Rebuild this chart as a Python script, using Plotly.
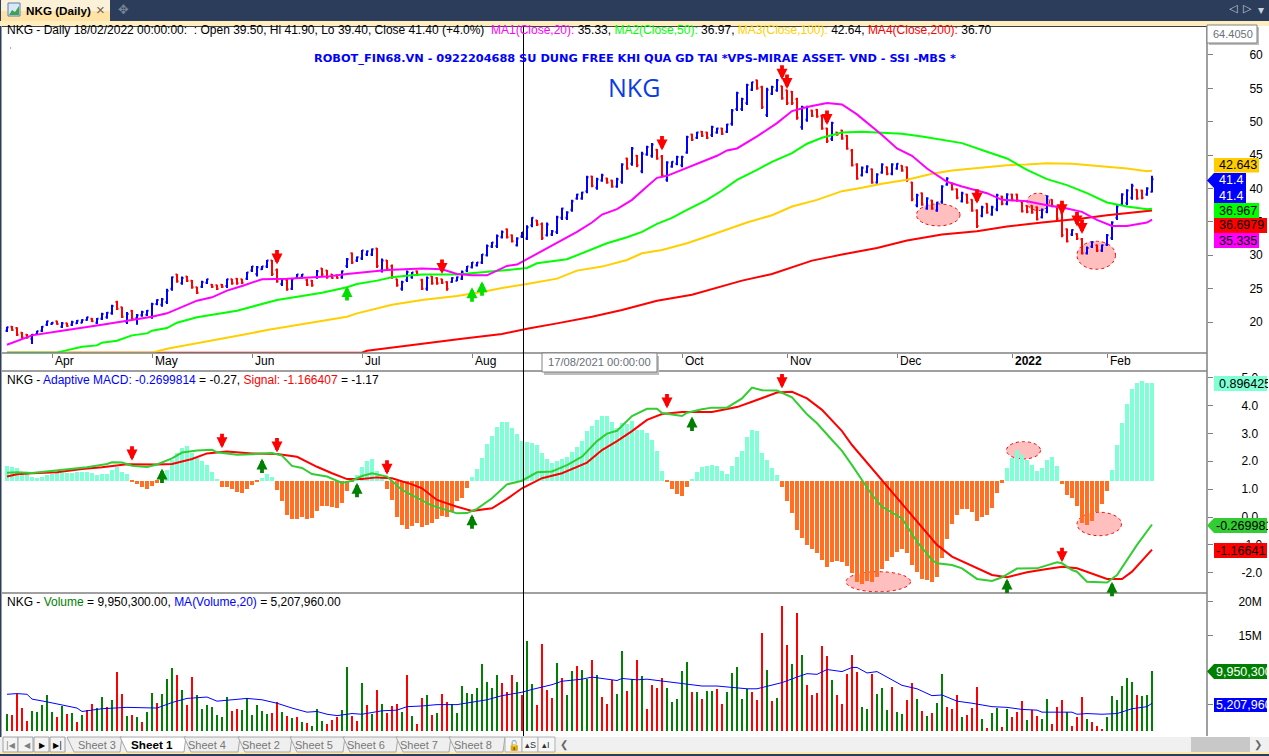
import plotly.graph_objects as go

W, H = 1269, 756
FONT = "Liberation Sans"

# ---- price pane (bar number on the x axis, one bar = 5 px)
bar_high = [
    19.3,19.4,19.2,18.5,18.2,18.2,18.7,19.4,20.2,20.0, 20.2,20.0,19.9,20.2,20.3,20.4,20.8,20.6,20.6,21.4,
    21.5,22.6,23.2,22.3,21.5,21.8,21.2,21.7,21.8,22.9, 23.4,23.6,25.0,26.8,27.2,26.8,26.9,26.3,25.3,26.2,
    26.5,25.7,25.6,25.7,26.5,26.5,26.6,26.5,27.5,28.4, 28.4,28.4,29.3,29.3,28.0,26.6,26.5,26.6,27.2,27.2,
    26.5,26.3,27.8,28.1,27.8,27.2,27.1,27.7,29.6,30.4, 29.8,30.8,30.7,31.0,31.1,29.5,29.3,28.6,26.5,26.2,
    27.7,27.5,27.7,26.5,26.8,26.9,26.7,26.5,26.1,26.7, 26.8,27.7,28.4,29.0,29.0,30.2,31.6,32.0,33.1,33.7,
    34.0,33.1,32.7,33.5,34.5,35.7,35.3,34.9,34.9,33.8, 35.9,37.1,36.6,38.3,39.2,39.5,41.9,41.9,41.6,42.2,
    41.6,41.3,41.6,43.8,44.6,46.2,45.0,45.5,46.4,46.8, 45.9,45.0,44.1,44.1,44.9,44.9,47.9,48.2,48.5,48.6,
    48.5,49.4,49.1,49.1,49.7,51.9,54.5,53.6,55.7,56.0, 56.3,55.4,55.1,55.4,56.4,55.4,54.8,54.6,53.6,52.4,
    52.4,51.8,51.9,51.0,49.1,50.0,48.5,48.8,48.0,45.9, 43.8,43.3,43.5,43.0,42.3,43.8,43.3,43.8,43.8,43.5,
    43.3,41.0,39.2,39.4,38.7,38.3,38.0,40.5,41.7,40.9, 40.0,39.5,39.2,38.4,36.9,37.4,37.8,37.4,39.2,38.9,
    39.3,39.2,39.2,38.1,37.5,37.5,37.3,37.0,39.0,38.4, 37.4,36.5,34.0,33.9,33.3,32.6,31.3,32.1,31.6,31.6,
    33.2,35.1,37.5,39.3,39.9,40.7,39.9,39.8,40.2,41.9,
]
bar_low = [
    18.5,18.7,17.9,17.5,17.5,16.7,18.1,18.5,19.4,19.6, 19.6,19.1,19.3,19.4,19.7,19.8,20.2,20.0,19.7,20.3,
    20.5,21.1,21.8,20.6,19.7,20.3,19.6,20.8,20.9,20.5, 22.5,22.3,22.7,24.7,25.9,25.6,26.0,25.0,24.2,25.1,
    25.7,25.1,24.8,25.1,25.1,25.6,25.6,25.7,26.3,27.5, 26.8,27.8,28.1,26.9,25.9,25.4,24.7,24.8,26.5,26.6,
    25.4,25.3,26.5,26.9,26.5,26.5,26.5,26.5,28.1,28.7, 29.0,29.3,29.9,29.9,28.1,27.4,27.8,26.5,25.3,24.7,
    26.0,26.5,26.9,24.8,24.7,25.6,25.6,25.7,24.7,25.9, 26.1,26.3,27.5,28.0,28.3,28.7,29.8,31.1,31.1,32.5,
    32.5,31.9,31.3,32.6,32.3,34.2,34.4,32.3,32.8,32.9, 33.2,35.3,35.3,36.5,38.3,38.3,39.3,40.2,39.8,41.0,
    40.7,40.1,40.1,40.7,42.8,43.4,43.2,42.3,44.9,44.6, 44.3,41.7,41.0,43.1,43.5,43.2,45.2,47.1,47.4,47.7,
    47.4,47.7,48.2,48.0,48.3,49.4,51.6,51.6,52.5,54.6, 54.8,51.9,50.7,54.0,54.5,53.3,52.5,52.5,50.3,48.8,
    50.0,50.7,50.6,48.8,46.8,47.1,47.9,47.3,45.8,43.3, 41.3,41.8,42.3,40.7,40.7,42.2,42.0,42.0,42.8,42.5,
    41.0,38.1,37.2,37.4,36.8,36.8,36.5,37.7,40.4,39.7, 38.4,37.9,37.7,36.5,34.1,35.7,36.2,35.9,36.6,37.5,
    37.5,38.1,38.0,36.4,36.3,36.2,35.2,35.5,36.3,37.2, 35.3,32.7,31.9,32.9,32.3,30.1,30.1,31.1,30.5,30.5,
    31.4,32.3,35.3,37.4,37.5,38.3,38.3,38.4,38.9,39.4,
]
bar_open = [
    18.7,19.3,19.1,18.4,18.1,17.5,18.2,18.7,19.6,19.7, 20.1,19.3,19.8,19.6,19.8,19.9,20.3,20.5,19.9,20.5,
    20.7,21.3,23.0,22.2,20.0,21.7,20.6,21.0,21.1,20.8, 22.7,22.6,23.0,25.0,27.1,25.8,26.8,26.2,25.2,25.3,
    25.9,25.6,25.5,25.6,25.4,26.4,26.5,26.4,26.5,27.7, 27.2,27.9,28.3,29.2,27.8,25.7,26.3,25.0,26.6,26.7,
    26.3,26.2,26.7,28.0,27.7,27.1,27.0,26.7,28.4,30.3, 29.2,29.5,30.1,30.1,31.0,27.7,29.2,28.4,26.4,25.0,
    26.3,26.7,27.6,26.3,25.0,26.8,26.6,26.4,26.0,26.0, 26.2,26.5,27.7,28.2,28.5,28.9,30.0,31.3,31.4,32.7,
    33.9,33.0,31.5,32.8,32.5,34.5,35.2,34.7,33.0,33.1, 33.5,35.6,35.6,36.8,38.5,38.5,39.6,41.8,40.1,41.2,
    41.5,41.2,40.3,41.0,44.5,43.7,44.9,42.6,45.1,44.9, 45.8,44.8,41.3,43.3,43.7,43.5,45.4,48.1,47.6,48.5,
    48.4,48.0,48.4,49.0,48.5,49.7,51.9,51.9,52.8,54.8, 56.2,55.2,51.0,54.2,54.7,55.3,54.7,54.5,53.4,49.2,
    50.3,51.7,51.8,50.9,49.0,47.4,48.4,48.7,47.9,45.7, 43.6,42.0,42.5,42.9,40.9,42.4,43.2,42.2,43.0,43.4,
    43.2,40.9,37.5,39.3,37.0,38.2,36.7,38.0,40.6,40.8, 39.9,38.1,39.1,38.3,36.7,35.9,37.7,36.1,36.9,38.8,
    37.7,39.1,39.1,38.0,37.4,37.4,37.2,35.7,36.5,38.3, 37.3,36.3,33.9,33.1,33.2,32.4,30.3,31.3,31.5,30.7,
    31.6,32.6,35.6,37.6,37.8,38.6,39.8,39.7,39.1,39.5,
]
bar_close = [
    19.2,18.8,18.1,17.7,17.7,18.1,18.6,19.3,20.1,19.9, 19.7,19.8,19.4,20.0,20.2,20.3,20.7,20.1,20.5,21.2,
    21.4,22.4,22.0,20.8,21.2,20.5,21.0,21.5,21.7,22.7, 23.3,23.4,24.7,26.7,26.1,26.6,26.2,25.2,24.4,26.0,
    26.4,25.3,25.0,25.3,26.4,25.8,25.8,25.9,27.4,28.3, 28.2,28.3,29.2,27.2,26.1,26.4,24.9,26.4,27.1,27.1,
    25.6,25.5,27.6,27.1,26.7,26.6,26.6,27.6,29.4,28.9, 29.7,30.7,30.6,30.9,28.4,29.2,28.0,26.7,25.5,26.0,
    27.5,27.4,27.1,25.0,26.6,25.8,25.8,25.9,25.0,26.6, 26.7,27.5,28.3,28.9,28.9,30.1,31.4,31.9,32.9,33.5,
    32.7,32.1,32.5,33.4,34.2,35.6,34.6,32.6,34.6,33.6, 35.7,37.0,36.4,38.1,39.1,39.4,41.7,40.4,41.4,42.0,
    40.9,40.3,41.4,43.6,43.0,46.0,43.5,45.2,46.2,46.6, 44.5,42.0,43.9,44.0,44.7,44.7,47.7,47.3,48.4,47.9,
    47.6,49.2,49.0,48.2,49.6,51.7,54.3,53.4,55.5,55.9, 55.0,52.2,54.8,55.2,56.2,53.5,52.8,52.8,50.6,52.2,
    52.2,50.9,50.8,49.0,47.1,49.8,48.1,47.5,46.0,43.5, 41.5,43.1,43.3,40.9,42.1,43.6,42.2,43.6,43.7,42.7,
    41.3,38.4,39.0,37.6,38.5,37.0,37.9,40.3,41.5,39.9, 38.6,39.3,37.9,36.7,34.4,37.2,36.4,37.2,39.0,37.7,
    39.1,38.3,38.2,36.6,36.5,36.4,35.4,36.8,38.8,37.4, 35.5,33.0,32.1,33.8,32.5,30.3,31.1,32.0,30.7,31.5,
    33.0,34.9,37.3,39.1,39.7,40.4,38.5,38.6,40.0,41.4,
]

ma20_x = [0,2,5,11,17,19,24,29,32,35,38,41,44,47,49,51,56,60,64,68,72,76,83,87,90,93,96,99,100,102,104,107,110,114,117,119,122,125,128,130,132,135,138,142,144,146,150,154,157,160,164,167,170,173,175,178,181,184,186,188,191,196,199,204,208,212,215,218,221,224,228,229]
ma20 = [16.6,17.2,18.0,18.7,19.3,19.6,20.2,20.8,21.3,22.3,23.2,23.7,24.7,25.4,25.9,26.4,26.5,26.6,26.8,27.2,27.5,27.8,28.0,27.9,27.2,27.0,27.0,28.0,28.4,28.6,29.4,30.7,31.8,33.5,34.9,36.1,36.9,38.3,40.3,41.6,41.9,42.8,43.7,44.9,45.7,46.0,47.8,49.8,51.6,52.2,52.8,52.6,51.1,49.3,48.0,46.0,44.9,43.0,42.0,41.0,40.3,39.3,38.3,38.1,37.5,37.0,36.5,35.3,34.4,34.4,34.9,35.33]
ma50_x = [0,10,11,15,18,19,22,25,28,29,32,34,38,42,46,49,51,54,59,63,68,70,74,77,81,83,90,95,99,104,106,112,116,120,124,127,130,133,136,140,143,146,150,153,157,160,163,167,171,175,179,183,187,191,196,200,204,208,212,216,220,224,228,229]
ma50 = [15.4,15.4,15.6,16.3,16.5,16.9,17.2,18.0,18.3,18.7,19.1,19.9,20.7,21.2,21.7,22.3,22.7,23.3,23.9,24.4,25.2,25.7,26.2,26.7,27.0,27.1,27.1,27.4,27.7,28.1,28.8,29.4,30.6,31.8,32.7,33.5,34.7,35.6,36.8,38.3,39.7,41.3,42.8,44.0,45.3,46.7,47.6,48.4,48.5,48.4,48.2,47.8,47.3,46.8,45.5,44.5,42.8,41.4,40.5,39.3,37.9,37.3,36.9,36.97]
ma100_x = [0,29,32,35,39,44,48,52,56,60,64,68,70,74,77,83,90,95,99,104,110,114,119,124,127,131,136,140,144,148,153,157,162,167,171,175,180,185,189,195,200,204,208,213,218,224,228,229]
ma100 = [15.4,15.4,16.0,16.4,17.0,17.6,18.2,18.8,19.3,19.8,20.3,20.8,21.3,22.1,22.6,23.3,23.9,24.5,25.1,25.7,26.5,27.7,28.3,29.3,30.3,30.8,31.8,32.8,33.8,34.9,36.0,37.3,38.3,39.6,40.1,40.7,41.3,42.2,42.7,43.1,43.5,43.6,43.8,43.7,43.4,43.0,42.6,42.64]
ma200_x = [0,71,72,77,83,87,91,99,104,110,117,123,126,130,137,142,147,153,157,161,167,174,180,187,194,200,207,215,220,226,229]
ma200 = [15.4,15.4,15.7,16.2,16.8,17.1,17.5,18.2,19.0,19.8,20.8,21.8,22.4,23.2,24.1,25.1,26.2,27.2,28.2,29.2,30.1,31.1,32.2,33.1,33.6,34.3,34.9,35.5,36.0,36.4,36.70]

sell_x = [54,87,131,155,156,164,194,211,214,215]
sell_tip = [28.6,27.2,45.7,56.3,54.9,49.5,37.7,36.0,34.3,33.2]
buy_x = [68,93,95]
buy_tip = [25.4,25.2,26.1]

# ---- MACD pane
macd_x = [0,2,5,10,16,20,21,23,25,28,30,33,35,38,41,42,46,49,53,55,57,59,61,64,67,69,71,73,76,79,83,85,87,90,92,94,97,100,103,106,109,112,115,118,120,122,125,128,130,131,135,136,139,141,144,147,149,151,154,157,160,162,165,167,169,171,173,175,179,182,185,186,189,191,194,197,199,202,206,210,211,213,214,216,220,222,226,229]
macd = [1.59,1.60,1.58,1.68,1.78,1.90,1.96,1.95,1.84,1.79,1.88,2.10,2.31,2.38,2.41,2.32,2.23,2.25,2.29,2.20,1.83,1.76,1.54,1.45,1.22,1.30,1.47,1.57,1.45,0.97,0.61,0.41,0.30,0.13,0.14,0.29,0.67,1.17,1.30,1.60,1.63,1.86,2.16,2.72,2.99,3.09,3.62,3.88,3.88,3.73,3.62,3.74,3.86,3.92,3.92,4.25,4.64,4.54,4.53,4.29,3.68,3.36,2.76,2.37,1.86,1.33,0.79,0.37,-0.05,-0.88,-1.54,-1.66,-1.72,-1.84,-2.22,-2.29,-2.16,-1.85,-1.84,-1.62,-1.66,-1.90,-1.96,-2.32,-2.35,-2.08,-1.00,-0.27]
signal_x = [0,2,5,10,15,19,24,27,30,33,37,40,44,49,54,58,62,65,68,71,74,77,81,83,86,90,93,97,100,103,107,111,116,119,122,125,128,131,135,141,146,149,154,157,160,163,167,169,175,181,186,189,193,197,200,204,208,211,214,217,220,223,225,229]
signal = [1.45,1.53,1.57,1.60,1.72,1.78,1.89,1.88,1.88,1.90,2.08,2.28,2.35,2.28,2.26,2.16,1.80,1.57,1.36,1.36,1.42,1.39,1.17,1.03,0.61,0.37,0.22,0.31,0.65,1.03,1.39,1.57,1.95,2.40,2.72,3.08,3.48,3.69,3.76,3.76,3.94,4.13,4.46,4.49,4.25,3.84,3.08,2.58,1.33,0.07,-1.00,-1.42,-1.76,-2.08,-2.16,-1.98,-1.86,-1.78,-1.84,-2.03,-2.22,-2.22,-1.96,-1.17]
histogram = [
    .137,.128,.119,.073,.064,.037,.027,.037,.055,.064, .073,.073,.073,.073,.082,.082,.082,.073,.055,.064,
    .064,.10,.128,.082,.064,-.005,-.03,-.055,-.07,-.05, -.015,.02,.10,.19,.26,.30,.32,.26,.21,.18,
    .146,.08,.018,-.055,-.055,-.073,-.10,-.113,-.073,-.037, -.006,.03,.064,.037,-.082,-.183,-.31,-.348,-.348,-.33,
    -.348,-.34,-.274,-.229,-.229,-.238,-.247,-.20,-.09,-.012, .055,.128,.18,.20,.09,.037,-.073,-.174,-.33,-.40,
    -.44,-.41,-.384,-.418,-.40,-.384,-.348,-.32,-.33,-.284, -.183,-.155,-.064,.037,.11,.21,.338,.41,.494,.54,
    .54,.485,.43,.366,.357,.348,.33,.256,.20,.165, .183,.20,.22,.265,.31,.366,.457,.503,.558,.594,
    .594,.54,.485,.53,.52,.55,.466,.466,.44,.375, .274,.09,-.009,-.073,-.119,-.137,-.055,.018,.082,.128,
    .137,.146,.137,.09,.064,.137,.22,.274,.40,.466, .457,.256,.19,.119,.055,-.055,-.183,-.293,-.448,-.52,
    -.585,-.622,-.658,-.72,-.787,-.74,-.73,-.74,-.777,-.84, -.924,-.942,-.915,-.924,-.878,-.805,-.73,-.695,-.65,-.622,
    -.658,-.768,-.832,-.896,-.905,-.924,-.878,-.704,-.53,-.393, -.31,-.256,-.256,-.284,-.366,-.33,-.31,-.247,-.11,-.018,
    .119,.21,.284,.238,.192,.146,.09,.119,.192,.22, .137,-.024,-.128,-.155,-.229,-.384,-.40,-.366,-.284,-.21,
    -.09,.10,.33,.53,.704,.84,.896,.915,.896,.896,
]
macd_sell_x = [25,43,54,76,132,155,211]
macd_sell_tip = [2.02,2.46,2.31,1.51,3.89,4.61,-1.62]
macd_buy_x = [31,51,70,93,137,200,221]
macd_buy_tip = [1.74,2.10,1.23,0.10,3.60,-2.20,-2.32]

# ---- volume pane, millions of shares
volume = [
    3.6,3.5,6.6,4.5,2.6,4.1,3.9,4.9,6.4,3.9, 3.2,4.8,3.6,3.8,2.5,3.5,4.2,5.1,4.5,6.1,
    4.6,5.7,9.7,6.5,3.3,3.5,3.2,2.5,3.9,6.7, 5.2,6.5,8.7,10.3,9.3,7.1,4.9,9.0,6.4,4.4,
    4.9,4.6,3.5,3.2,6.1,4.1,4.4,4.2,6.0,3.5, 4.9,4.1,3.6,3.8,5.4,3.9,3.3,3.0,3.2,2.5,
    2.3,1.9,4.4,2.6,2.2,2.8,3.2,4.2,10.5,3.3, 2.6,8.1,4.9,3.6,7.1,5.1,3.8,4.8,5.1,3.9,
    9.3,3.3,2.2,6.0,6.4,3.5,3.8,6.5,5.4,5.1, 3.8,7.7,6.7,6.5,7.4,10.9,8.3,7.4,9.3,8.1,
    6.8,9.3,8.3,6.4,14.2,8.0,4.9,13.8,7.1,6.0, 11.0,8.9,6.4,9.9,10.6,10.0,8.7,11.5,9.3,6.1,
    5.1,8.6,6.5,12.8,7.0,8.7,11.5,9.2,4.4,7.8, 7.4,8.9,7.4,5.4,5.8,9.9,11.2,6.8,6.8,5.8,
    7.0,7.0,7.3,5.1,6.8,9.6,10.5,5.8,7.3,6.8, 5.7,15.4,10.0,5.5,6.0,19.3,13.7,10.9,18.3,12.2,
    7.9,6.4,6.7,13.5,12.1,8.6,6.4,5.1,9.4,12.2, 9.7,4.6,4.4,9.4,6.5,7.4,4.2,7.6,3.9,3.6,
    5.7,8.1,5.8,4.1,3.3,3.8,5.2,9.4,4.6,4.4, 6.4,3.2,3.5,4.5,7.6,2.9,1.6,3.8,4.5,1.7,
    4.4,3.2,3.9,5.5,2.8,4.2,3.3,2.9,5.8,2.2, 4.6,5.7,3.9,1.9,3.2,6.1,2.9,2.5,1.9,1.5,
    3.2,6.3,5.7,7.7,8.9,8.3,6.4,6.3,6.4,9.95,
]
volume_side = (
    "GRRRRGGGGG" "RGRGRGRRGG" "RGRRGRGRGG" "RGGGRGRRGG" "GGGGGRRGGG" "GGGRRGRGRG"
    "RGGGRRRGGR" "RGRGRGRRRG" "RGRRGRGRRG" "GGGGGGGGGR" "RRGRGGRRRR" "GRGGRGGRGR"
    "RRGGRGRGRR" "RRGGGGGRGR" "GGRRGGGGGR" "RRGRGRRGRG" "RRRRRGRRRR" "RGGRGGGRGG"
    "RRGRGRGGRR" "RGRRRGRGGR" "GRRRGRRGGR" "RRGRRRGRRR" "GGGGGGRGGG"
)
vol_ma_x = [0,2,4,5,8,11,14,15,19,24,27,30,33,36,40,42,45,48,51,54,57,60,62,64,66,69,71,75,78,80,83,86,90,93,96,99,103,105,109,111,115,117,120,122,123,126,128,131,134,137,139,142,145,148,150,153,155,158,160,162,164,167,169,170,172,174,177,179,182,185,187,190,193,197,200,203,206,207,210,213,214,216,219,222,225,228,229]
vol_ma = [6.5,6.6,6.5,5.8,5.4,4.9,4.5,4.0,4.4,4.6,4.6,4.5,5.3,5.9,6.1,5.5,5.7,5.9,5.7,5.2,4.5,3.9,4.0,3.6,3.4,3.7,3.6,4.1,4.2,4.7,4.8,5.0,5.0,5.3,5.7,6.3,6.8,7.2,7.9,8.4,8.7,9.0,8.7,8.5,8.8,8.6,8.7,8.4,8.1,7.9,7.7,7.7,7.5,7.3,7.3,7.8,8.2,9.0,9.5,9.4,10.1,9.8,10.4,10.4,9.6,9.8,8.6,7.8,7.3,6.3,6.4,5.5,5.2,4.7,4.6,4.3,4.2,3.9,3.9,3.9,3.6,3.7,3.6,3.7,4.4,4.7,5.2]

month_x = [9,29,49,71,93,135,156,178,201,220]
month_text = ["Apr","May","Jun","Jul","Aug","Oct","Nov","Dec","2022","Feb"]
sep_tick = 114
cursor_x = 103.3

# pink marks: bar from, bar to, value low, value high
price_ovals = [(181.9,190.6,34.4,37.7),(204,208.5,36.7,39.3),(214,221.7,27.9,32.1)]
macd_ovals = [(167.8,180.7,-2.68,-1.96),(199.9,206.7,2.08,2.70),(214,222.9,-0.67,0.17)]


def domain(top, bottom):
    return [1 - bottom / H, 1 - top / H]


def px(x):
    return x / W


def py(y):
    return 1 - y / H


shapes = []
notes = []


def rect(x0, y0, x1, y1, fill, line=None, width=1):
    shapes.append(dict(type="rect", xref="paper", yref="paper", x0=px(x0), x1=px(x1), y0=py(y0), y1=py(y1),
                       fillcolor=fill, line=dict(color=line or fill, width=width if line else 0)))


def rule(x0, y0, x1, y1, color, width=1):
    shapes.append(dict(type="line", xref="paper", yref="paper", x0=px(x0), x1=px(x1), y0=py(y0), y1=py(y1),
                       line=dict(color=color, width=width)))


def poly(points, fill, line=None, width=1):
    path = "M " + " L ".join(f"{px(x):.5f} {py(y):.5f}" for x, y in points) + " Z"
    shapes.append(dict(type="path", xref="paper", yref="paper", path=path, fillcolor=fill,
                       line=dict(color=line or fill, width=width if line else 0)))


def text(x, y, s, size=12, color="black", anchor="left", family=FONT, **kw):
    notes.append(dict(xref="paper", yref="paper", x=px(x), y=py(y), text=s, showarrow=False, xanchor=anchor,
                      yanchor="middle", borderpad=0, font=dict(family=family, size=size, color=color), **kw))


def arrow(x, tip, xref, yref, color, down):
    notes.append(dict(x=x, y=tip, xref=xref, yref=yref, text="", showarrow=True, axref="pixel", ayref="pixel",
                      ax=0, ay=-16 if down else 16, arrowhead=2, arrowsize=0.58, arrowwidth=3.8,
                      arrowcolor=color, standoff=0))


def oval(x0, x1, v0, v1, xref, yref):
    shapes.append(dict(type="circle", xref=xref, yref=yref, x0=x0, x1=x1, y0=v0, y1=v1, layer="below",
                       fillcolor="#FFBFBF", line=dict(color="#FF0000", width=1, dash="dot")))


def value_box(y0, x1, y1, fill, s, color="black", pointer=False, start=1218):
    if pointer:
        mid = (y0 + y1) / 2
        poly([(1207, mid), (1214, y0), (x1, y0), (x1, y1), (1214, y1)], fill)
    else:
        rect(1214, y0, x1, y1, fill)
    notes.append(dict(xref="paper", yref="paper", x=px(start), y=py((y0 + y1) / 2), text=s, showarrow=False,
                      xanchor="left", yanchor="middle", align="left", width=x1 - start, borderpad=0,
                      font=dict(family=FONT, size=12.5, color=color)))


fig = go.Figure()

for xs, ys, color in [(ma200_x, ma200, "#FF0000"), (ma100_x, ma100, "#FFD000"),
                      (ma50_x, ma50, "#00FF00"), (ma20_x, ma20, "#FF00FF")]:
    fig.add_trace(go.Scatter(x=xs, y=ys, mode="lines", line=dict(color=color, width=2), xaxis="x", yaxis="y",
                             hoverinfo="skip", showlegend=False))
bars_x = list(range(len(bar_close)))
fig.add_trace(go.Ohlc(x=bars_x, open=bar_open, high=bar_high, low=bar_low, close=bar_close, xaxis="x", yaxis="y",
                      increasing_line_color="#0000FF", decreasing_line_color="#FF0000", line_width=2,
                      tickwidth=0.3, showlegend=False))

fig.add_trace(go.Bar(x=bars_x, y=histogram, width=0.8, xaxis="x2", yaxis="y2", showlegend=False,
                     marker=dict(color=["#7FFFD4" if v > 0 else "#FF7024" for v in histogram], line_width=0)))
fig.add_trace(go.Scatter(x=signal_x, y=signal, mode="lines", line=dict(color="#FF0000", width=2), xaxis="x2",
                         yaxis="y4", showlegend=False))
fig.add_trace(go.Scatter(x=macd_x, y=macd, mode="lines", line=dict(color="#32CD32", width=2), xaxis="x2",
                         yaxis="y4", showlegend=False))

fig.add_trace(go.Bar(x=bars_x, y=volume, width=0.42, xaxis="x3", yaxis="y3", showlegend=False,
                     marker=dict(color=["#008000" if s == "G" else "#FF0000" for s in volume_side], line_width=0)))
fig.add_trace(go.Scatter(x=vol_ma_x, y=vol_ma, mode="lines", line=dict(color="#0000FF", width=1), xaxis="x3",
                         yaxis="y3", showlegend=False))

for o in price_ovals:
    oval(o[0], o[1], o[2], o[3], "x", "y")
for o in macd_ovals:
    oval(o[0], o[1], o[2], o[3], "x2", "y4")

for x, tip in zip(sell_x, sell_tip):
    arrow(x, tip, "x", "y", "#FF0000", True)
for x, tip in zip(buy_x, buy_tip):
    arrow(x, tip, "x", "y", "#00E000", False)
for x, tip in zip(macd_sell_x, macd_sell_tip):
    arrow(x, tip, "x2", "y4", "#FF0000", True)
for x, tip in zip(macd_buy_x, macd_buy_tip):
    arrow(x, tip, "x2", "y4", "#008000", False)

# pane frames, cursor
rule(2, 26, 1207, 26, "#000000", 1.5)
rule(2, 353, 1207, 353, "#808080", 1.5)
rule(2, 371, 1207, 371, "#808080", 1.5)
rule(2, 593, 1207, 593, "#808080", 1.5)
rule(1207, 26, 1207, 736, "#808080", 1.5)
shapes.append(dict(type="line", xref="x", yref="paper", x0=cursor_x, x1=cursor_x, y0=py(26), y1=py(736),
                   line=dict(color="black", width=1)))
rect(10, 47.5, 11, 48.5, "#FF2060")

# window chrome, top
rect(0, 0, W, 21, "#2C3D5C")
rect(1, 0, 110, 11, "#FBF1D8")
rect(1, 11, 110, 21, "#FFE3A6")
rect(0, 21, W, 26, "#FFEFC0")
rect(0, 26, 1.5, 737, "#2C3D5C")
rect(8, 3, 20, 16, "#D9E8F8", "#5A7FB0")
poly([(9, 15), (12, 10), (15, 12), (19, 6), (19, 15)], "#3FA34D")
text(25, 10, "<b>NKG (Daily)</b>", 11.7)
text(100, 9.5, "×", 15, "#6E6650", "center")
text(123, 9.5, "✥", 13, "#7A8494", "center", "DejaVu Sans")
text(1233, 9, "◁", 11, "#C8D0DC", "center", "DejaVu Sans")
text(1247, 9, "▷", 11, "#C8D0DC", "center", "DejaVu Sans")
text(1261, 10, "▾", 12, "#C8D0DC", "center", "DejaVu Sans")

# window chrome, bottom
rect(0, 737, W, 752, "#F0F0F0")
rect(0, 752, W, 754, "#FFE8A8")
rect(0, 754, W, 756, "#2C3D5C")
rect(1191, 737, 1250, 752, "#C8C8C8")
text(1258, 745, "❯", 10, "#666666", "center", "DejaVu Sans")
for left in (3, 18, 34, 50):
    rect(left, 737, left + 15, 752, "#F4F4F4", "#A0A0A0")
text(10.5, 745, "|◀", 8, "#808080", "center", "DejaVu Sans")
text(27, 745, "◀", 8, "#808080", "center", "DejaVu Sans")
text(42, 745, "▶", 8, "#000000", "center", "DejaVu Sans")
text(58, 745, "▶|", 8, "#000000", "center", "DejaVu Sans")
sheet_names = ["Sheet 3", "Sheet 1", "Sheet 4", "Sheet 2", "Sheet 5", "Sheet 6", "Sheet 7", "Sheet 8"]
sheet_left = [67, 120, 184, 238, 290, 343, 396, 449]
sheet_right = [120, 184, 238, 290, 343, 396, 449, 503]
sheet_mid = [96.5, 152, 207.5, 260.5, 313.5, 366.5, 419.5, 472.5]
for name, a, b, mid in zip(sheet_names, sheet_left, sheet_right, sheet_mid):
    active = name == "Sheet 1"
    poly([(a, 737), (a + 7, 752), (b, 752), (b + 2, 737)], "#FFFFFF" if active else "#EFEFEF", "#A8A8A8")
    if active:
        text(mid, 744.5, f"<b>{name}</b>", 11.7, "#000000", "center")
    else:
        text(mid, 744.5, name, 11, "#777777", "center")
rect(505, 737, 522, 752, "#F6F6F6", "#B0B0B0")
text(513.5, 745, "🔓", 10, "#000000", "center", "DejaVu Sans")
rect(522, 737, 538, 752, "#F6F6F6", "#B0B0B0")
text(530, 745, "▴S", 9, "#303030", "center")
rect(538, 737, 555, 752, "#F6F6F6", "#B0B0B0")
text(546, 745, "▴I", 9, "#303030", "center")
text(564, 745, "❮", 10, "#666666", "center", "DejaVu Sans")

# pane headings
text(6, 30, "NKG - Daily 18/02/2022 00:00:00:  : Open 39.50, Hi 41.90, Lo 39.40, Close 41.40 (+4.0%)\u00a0\u00a0"
     "<span style='color:#FF00FF'>MA1(Close,20):</span> 35.33, "
     "<span style='color:#00FF00'>MA2(Close,50):</span> 36.97, "
     "<span style='color:#FFD000'>MA3(Close,100):</span> 42.64, "
     "<span style='color:#FF0000'>MA4(Close,200):</span> 36.70")
text(6, 379.5, "NKG - <span style='color:#0000FF'>Adaptive MACD: -0.2699814</span> = -0.27, "
     "<span style='color:#FF0000'>Signal: -1.166407</span> = -1.17")
text(6, 602, "NKG - <span style='color:#008000'>Volume</span> = 9,950,300.00, "
     "<span style='color:#0000FF'>MA(Volume,20)</span> = 5,207,960.00")
text(313, 58.5, "<b>ROBOT_FIN68.VN - 0922204688 SU DUNG FREE KHI QUA GD TAI *VPS-MIRAE ASSET- VND - SSI -MBS *</b>",
     11.33, "#0000FF", family="DejaVu Sans")
text(634, 87, "NKG", 25, "#0A3CE6", "center", "Open Sans")

# month names, left aligned next to their tick
for x, s in zip(month_x, month_text):
    notes.append(dict(x=x, y=py(361), xref="x", yref="paper", text=f"<b>{s}</b>" if s == "2022" else s,
                      showarrow=False, xanchor="left", yanchor="middle", borderpad=0, xshift=2,
                      font=dict(family=FONT, size=12, color="black")))

# value boxes on the right
value_box(158, 1259, 172.5, "#FFCC00", "42.643")
value_box(173, 1246, 188, "#0000FF", "41.4", "white", pointer=True)
value_box(188, 1246, 203, "#0000FF", "41.4", "white")
value_box(203, 1259, 218, "#00FF00", "36.967")
value_box(218, 1267, 233, "#FF0000", "36.6979")
value_box(233, 1259, 248, "#FF00FF", "35.335")
value_box(376, 1267, 391, "#7FFFD4", "0.896425")
value_box(518, 1267, 533, "#32CD32", "-0.269981", pointer=True, start=1215)
value_box(543, 1267, 558, "#FF0000", "-1.16641", start=1215)
value_box(664, 1267, 679, "#008000", "9,950,300", "white", pointer=True, start=1215)
value_box(698, 1267, 712, "#0000FF", "5,207,960", "white", start=1215)

# cursor read-outs
rect(1209, 27, 1259, 45, "#BDBDBD")
rect(1207, 25, 1257, 43, "#FFFFFF", "#808080")
text(1212, 34, "64.4050", 11, "#6A7078")
rect(544, 356, 659, 375, "#BDBDBD")
rect(542, 353, 657, 372, "#FFFFFF", "#808080")
text(547, 362.5, "17/08/2021 00:00:00", 11.2, "#6A7078")

tick_style = dict(ticks="outside", ticklen=5, tickcolor="#808080", tickwidth=1, showgrid=False, zeroline=False,
                  showline=False, side="right", tickfont=dict(family=FONT, size=12, color="black"))
x_style = dict(domain=[px(2), px(1207)], range=[-1, 240], showgrid=False, zeroline=False, showline=False,
               showticklabels=False)

fig.update_layout(
    width=W, height=H, margin=dict(l=0, r=0, t=0, b=0), autosize=False,
    paper_bgcolor="white", plot_bgcolor="white", showlegend=False, barmode="overlay", bargap=0,
    shapes=shapes, annotations=notes, hovermode=False,
    xaxis=dict(x_style, anchor="y", rangeslider=dict(visible=False), ticks="outside", ticklen=4, tickcolor="#808080",
               tickvals=sorted(month_x + [sep_tick])),
    xaxis2=dict(x_style, anchor="y2", matches="x", ticks=""),
    xaxis3=dict(x_style, anchor="y3", matches="x", ticks=""),
    yaxis=dict(tick_style, domain=domain(26, 353), range=[15.36, 64.34], anchor="x", tickvals=list(range(20, 65, 5)),
               ticklabelstandoff=34),
    yaxis2=dict(domain=domain(371, 593), range=[-1.025, 1.006], anchor="x2", visible=False),
    yaxis4=dict(tick_style, domain=domain(371, 593), range=[-2.724, 5.233], anchor="x2", overlaying="y2",
                tickvals=[-2, -1, 0, 1, 2, 3, 4, 5], ticktext=["-2.0", "-1.0", "0.0", "1.0", "2.0", "3.0", "4.0", "5.0"],
                ticklabelstandoff=26),
    yaxis3=dict(tick_style, domain=domain(594, 731), range=[1.163, 21.08], anchor="x3", tickvals=[5, 10, 15, 20],
                ticktext=["5M", "10M", "15M", "20M"], ticklabelstandoff=23),
)

fig.write_html("out.html", config={"displayModeBar": False},
               post_script="document.body.style.margin='0';document.body.style.overflow='hidden';")
